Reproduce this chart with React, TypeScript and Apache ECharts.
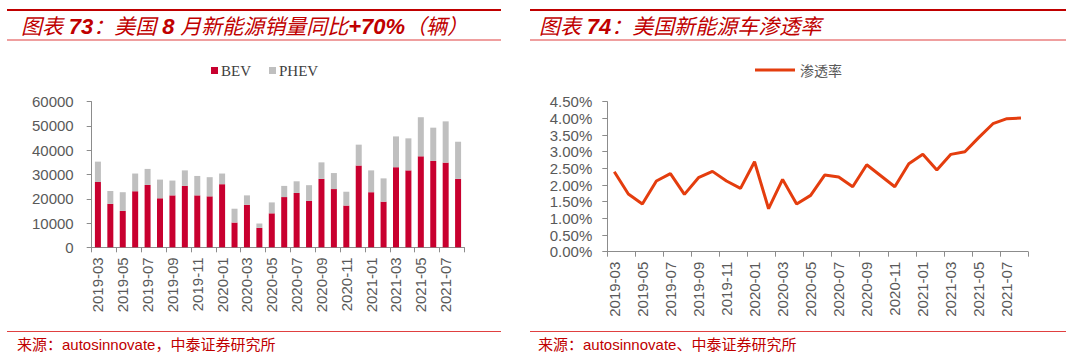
import React, { useEffect, useRef } from "react";
import * as echarts from "echarts";

const categories = [
  "2019-03", "2019-04", "2019-05", "2019-06", "2019-07", "2019-08", "2019-09", "2019-10", "2019-11", "2019-12",
  "2020-01", "2020-02", "2020-03", "2020-04", "2020-05", "2020-06", "2020-07", "2020-08", "2020-09", "2020-10",
  "2020-11", "2020-12", "2021-01", "2021-02", "2021-03", "2021-04", "2021-05", "2021-06", "2021-07", "2021-08",
];

const bevSales = [
  26900, 17900, 15000, 23100, 25700, 20200, 21400, 25300, 21400, 21000,
  26000, 10200, 17500, 8000, 14000, 20700, 22400, 19100, 28200, 24000,
  17200, 33700, 22700, 18800, 33000, 31700, 37500, 35600, 34900, 28200,
];

const phevSales = [
  8400, 5300, 7700, 7300, 6600, 7700, 6100, 6400, 8000, 7900,
  4400, 5700, 3900, 1800, 4500, 4600, 4800, 6500, 6800, 6600,
  5700, 8600, 9000, 9600, 12700, 13200, 16100, 13700, 17000, 15300,
];

const penetration = [
  2.40, 1.73, 1.43, 2.12, 2.34, 1.72, 2.22, 2.41, 2.12, 1.90,
  2.70, 1.29, 2.17, 1.43, 1.69, 2.30, 2.24, 1.95, 2.61, 2.28,
  1.95, 2.64, 2.92, 2.45, 2.92, 3.00, 3.43, 3.84, 3.99, 4.01,
];

const leftTitle = ["图表 ", "73", "：美国 ", "8", " 月新能源销量同比", "+70%", "（辆）"];
const rightTitle = ["图表 ", "74", "：美国新能源车渗透率"];
const leftSource = "来源：autosinnovate，中泰证券研究所";
const rightSource = "来源：autosinnovate、中泰证券研究所";

const RED = "#C00000";
const LABEL = "#595959";
const AXIS = "#8C8C8C";
const SANS = "'Liberation Sans', 'Noto Sans CJK SC', sans-serif";

function titleRich(parts: string[]) {
  return parts
    .map((p, i) => (i % 2 === 1 ? `{b|${p}}` : `{n|${p}}`))
    .join("");
}

export default function App() {
  const ref = useRef<HTMLDivElement>(null);

  useEffect(() => {
    if (!ref.current) return;
    const chart = echarts.init(ref.current, undefined, { renderer: "svg" });

    const titleStyle = {
      fill: RED,
      fontSize: 21,
      fontStyle: "italic",
      fontFamily: SANS,
      verticalAlign: "middle",
      rich: {
        n: { fontSize: 21, fontStyle: "italic", fontFamily: SANS, fill: RED },
        b: { fontSize: 22, fontStyle: "italic", fontWeight: "bold", fontFamily: SANS, fill: RED },
      },
    };

    const xAxisCommon = {
      type: "category",
      data: categories,
      boundaryGap: true,
      axisLine: { lineStyle: { color: AXIS, width: 1 } },
      axisTick: { show: true, interval: 1, length: 5, lineStyle: { color: AXIS } },
      axisLabel: {
        interval: 1,
        rotate: 90,
        margin: 10,
        color: LABEL,
        fontSize: 15,
        fontFamily: SANS,
      },
      splitLine: { show: false },
    };

    chart.setOption({
      animation: false,
      grid: [
        { left: 91.7, top: 101.7, width: 372.6, height: 145.6, containLabel: false },
        { left: 607.3, top: 101.7, width: 420.7, height: 150, containLabel: false },
      ],
      legend: [
        {
          data: ["BEV", "PHEV"],
          left: 206,
          top: 58,
          icon: "rect",
          itemWidth: 7,
          itemHeight: 7,
          itemGap: 18,
          textStyle: { fontFamily: "'Liberation Serif', serif", fontSize: 15, color: "#404040", padding: [0, 0, 0, -2] },
        },
        {
          data: ["渗透率"],
          left: 750,
          top: 58,
          icon: "rect",
          itemWidth: 40,
          itemHeight: 3,
          textStyle: { fontFamily: "'Noto Sans CJK SC', sans-serif", fontSize: 14, color: LABEL },
        },
      ],
      xAxis: [
        { ...xAxisCommon, gridIndex: 0 },
        { ...xAxisCommon, gridIndex: 1 },
      ],
      yAxis: [
        {
          type: "value",
          gridIndex: 0,
          min: 0,
          max: 60000,
          interval: 10000,
          axisLine: { show: true, lineStyle: { color: AXIS } },
          axisTick: { show: true, length: 5, lineStyle: { color: AXIS } },
          axisLabel: { color: LABEL, fontSize: 15, fontFamily: SANS, margin: 18, formatter: (v: number) => String(v) },
          splitLine: { show: false },
        },
        {
          type: "value",
          gridIndex: 1,
          min: 0,
          max: 4.5,
          interval: 0.5,
          axisLine: { show: true, lineStyle: { color: AXIS } },
          axisTick: { show: true, length: 5, lineStyle: { color: AXIS } },
          axisLabel: {
            color: LABEL,
            fontSize: 15,
            fontFamily: SANS,
            margin: 15,
            formatter: (v: number) => v.toFixed(2) + "%",
          },
          splitLine: { show: false },
        },
      ],
      series: [
        {
          name: "BEV",
          type: "bar",
          xAxisIndex: 0,
          yAxisIndex: 0,
          stack: "sales",
          barWidth: 6,
          itemStyle: { color: "#C8002F" },
          data: bevSales,
        },
        {
          name: "PHEV",
          type: "bar",
          xAxisIndex: 0,
          yAxisIndex: 0,
          stack: "sales",
          barWidth: 6,
          itemStyle: { color: "#BFBFBF" },
          data: phevSales,
        },
        {
          name: "渗透率",
          type: "line",
          xAxisIndex: 1,
          yAxisIndex: 1,
          symbol: "none",
          lineStyle: { color: "#E43D0E", width: 3 },
          itemStyle: { color: "#E43D0E" },
          data: penetration,
        },
      ],
      graphic: [
        { type: "rect", shape: { x: 7, y: 9, width: 494, height: 2 }, style: { fill: RED } },
        { type: "rect", shape: { x: 7, y: 39.5, width: 494, height: 1 }, style: { fill: "#E04040" } },
        { type: "rect", shape: { x: 7, y: 331, width: 494, height: 1 }, style: { fill: "#E04040" } },
        { type: "rect", shape: { x: 530, y: 9, width: 536, height: 2 }, style: { fill: RED } },
        { type: "rect", shape: { x: 530, y: 39.5, width: 536, height: 1 }, style: { fill: "#E04040" } },
        { type: "rect", shape: { x: 530, y: 331, width: 536, height: 1 }, style: { fill: "#E04040" } },
        { type: "text", x: 21, y: 26, style: { ...titleStyle, text: titleRich(leftTitle) } },
        { type: "text", x: 539, y: 26, style: { ...titleStyle, text: titleRich(rightTitle) } },
        {
          type: "text",
          x: 17,
          y: 344,
          style: { text: leftSource, fill: RED, fontSize: 15, fontFamily: SANS, verticalAlign: "middle" },
        },
        {
          type: "text",
          x: 538,
          y: 344,
          style: { text: rightSource, fill: RED, fontSize: 15, fontFamily: SANS, verticalAlign: "middle" },
        },
      ],
    });

    return () => chart.dispose();
  }, []);

  return (
    <div
      ref={ref}
      style={{ position: "absolute", left: 0, top: 0, width: 1080, height: 355, background: "#fff" }}
    />
  );
}
